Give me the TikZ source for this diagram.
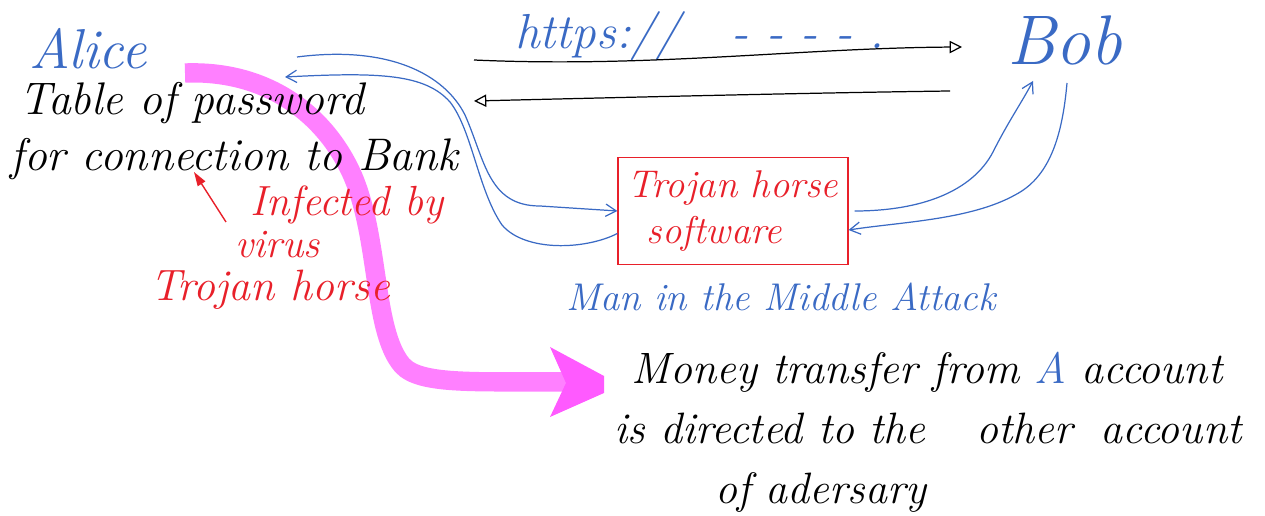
\documentclass[tikz,border=0pt]{standalone}
\usepackage{fontspec}
\usetikzlibrary{arrows.meta}
\definecolor{inkblue}{RGB}{58,106,196}
\definecolor{inkred}{RGB}{232,32,42}
\definecolor{marker}{RGB}{255,128,255}
\definecolor{markerdark}{RGB}{255,90,255}
\tikzset{
  hand/.style={font=\itshape\fontsize{#1}{#1}\selectfont, inner sep=0pt},
  bluelink/.style={draw=inkblue, line width=0.7pt},
  blacklink/.style={draw=black, line width=0.7pt},
  openhead/.style={-{Triangle[open,length=7pt,width=7pt]}},
  barbhead/.style={-{Straight Barb[length=6pt,width=7pt]}},
}
\begin{document}
\begin{tikzpicture}[x=0.02cm,y=-0.02cm]
\useasboundingbox (0,0) rectangle (1265,516);

% highlighter stroke from the password table to the result
\draw[marker, line width=11pt]
  (185,73) .. controls (265,70) and (322,112) .. (350,170)
  .. controls (380,232) and (372,330) .. (402,365)
  .. controls (420,386) and (480,381) .. (570,382);
\fill[markerdark] (550,347) -- (604,376) -- (604,393) -- (550,417) -- (566,383) -- cycle;

% people and labels
\node[hand=32pt, text=inkblue] (alice) at (88,49) {Alice};
\node[hand=40pt, text=inkblue] (bob) at (1065,40) {Bob};
\node[hand=26pt, align=left, anchor=north west] (table) at (10,82)
  {\hspace*{0.2em}Table of password\\[6pt]for connection to Bank};

\node[hand=24pt, text=inkred, anchor=west] (inf1) at (250,205) {Infected by};
\node[hand=23pt, text=inkred, anchor=west] (inf2) at (235,245) {virus};
\node[hand=25pt, text=inkred, anchor=west] (inf3) at (150,290) {Trojan horse};
\coordinate (redtail) at (226,222);
\coordinate (redtip) at (194,172);
\draw[inkred, line width=0.8pt, -{Triangle[length=8pt,width=5pt]}] (redtail) -- (redtip);

\node[hand=28pt, text=inkblue, anchor=west] (url) at (515,36) {https://\ \ \ - - - - .};

% intercepting software
\node[draw=inkred, line width=0.7pt, minimum width=4.6cm, minimum height=2.14cm,
      hand=22pt, text=inkred, align=left] (trojan) at (733,211)
  {Trojan horse\\[4pt]\hspace*{0.5em}software};

\node[hand=22pt, text=inkblue] (mitm) at (781,297) {Man in the Middle Attack};

\node[hand=25pt, align=left, anchor=north west] (money) at (614,352)
  {\hspace*{0.4em}Money transfer from {\color{inkblue}A} account\\[9pt]
   is directed to the\hspace*{0.8em} other\hspace*{0.3em} account\\[9pt]
   \hspace*{2.3em}of adersary};

% direct https exchange
\coordinate (hs1) at (474,60);
\coordinate (hs2) at (962,47);
\coordinate (hr1) at (950,91);
\coordinate (hr2) at (474,101);
\draw[blacklink, openhead] (hs1) .. controls (650,68) and (800,48) .. (hs2);
\draw[blacklink, openhead] (hr1) .. controls (800,93) and (600,98) .. (hr2);

% traffic diverted through the trojan
\coordinate (aout) at (297,57);
\coordinate (ain) at (285,77);
\draw[bluelink, barbhead] (aout) .. controls (390,45) and (445,75) .. (465,115)
  .. controls (485,160) and (488,206) .. (540,206) -- (trojan.west);
\draw[bluelink, barbhead] ([yshift=-0.45cm]trojan.west)
  .. controls (585,250) and (525,252) .. (502,225)
  .. controls (478,190) and (472,130) .. (450,102)
  .. controls (425,74) and (380,72) .. (ain);
\coordinate (bin) at (1033,81);
\coordinate (bout) at (1067,83);
\draw[bluelink, barbhead] ([xshift=0.12cm]trojan.east)
  .. controls (920,211) and (972,192) .. (993,152)
  .. controls (1008,122) and (1022,102) .. (bin);
\draw[bluelink, barbhead] (bout)
  .. controls (1062,140) and (1048,178) .. (1015,195)
  .. controls (970,220) and (900,222) .. ([yshift=-0.38cm]trojan.east);
\end{tikzpicture}
\end{document}
